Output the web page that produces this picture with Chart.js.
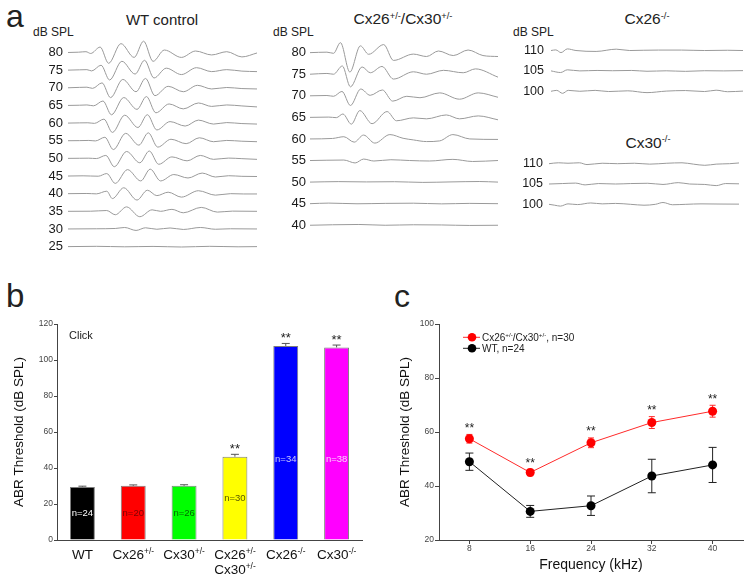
<!DOCTYPE html>
<html><head><meta charset="utf-8">
<script src="https://cdn.jsdelivr.net/npm/chart.js@4.4.0/dist/chart.umd.min.js"></script>
<style>
html,body{margin:0;padding:0;background:#fff;}
#fig{position:relative;width:751px;height:581px;overflow:hidden;font-family:"Liberation Sans",Arial,sans-serif;color:#222;}
canvas{position:absolute;}
.t{position:absolute;white-space:nowrap;line-height:1;}
.c{transform:translateX(-50%);}
.t sup{font-size:60%;vertical-align:0;position:relative;top:-0.6em;}
</style></head><body>
<div id="fig">
  <div class="t" style="left:6px;top:0px;font-size:32px">a</div>
  <div class="t" style="left:6px;top:279px;font-size:33px">b</div>
  <div class="t" style="left:394px;top:280px;font-size:32px">c</div>
  <div class="t c" style="left:162px;top:11.7px;font-size:15px">WT control</div>
  <div class="t c" style="left:403px;top:11.4px;font-size:15.5px">Cx26<sup>+/-</sup>/Cx30<sup>+/-</sup></div>
  <div class="t c" style="left:647px;top:11.4px;font-size:15.5px">Cx26<sup>-/-</sup></div>
  <div class="t c" style="left:648px;top:134.5px;font-size:15.5px">Cx30<sup>-/-</sup></div>
  <div class="t" style="left:33px;top:25.8px;font-size:12px">dB SPL</div>
  <div class="t" style="left:273px;top:25.8px;font-size:12px">dB SPL</div>
  <div class="t" style="left:513px;top:25.8px;font-size:12px">dB SPL</div>
  <canvas id="cWT" width="262" height="270" style="left:0;top:0"></canvas>
  <canvas id="cMid" width="245" height="250" style="left:260px;top:0"></canvas>
  <canvas id="cK26" width="246" height="118" style="left:505px;top:0"></canvas>
  <canvas id="cK30" width="246" height="112" style="left:505px;top:118px"></canvas>
  <canvas id="cB" width="375" height="291" style="left:0;top:290px"></canvas>
  <canvas id="cC" width="371" height="291" style="left:380px;top:290px"></canvas>
</div>
<script>
// ---------------- DATA ----------------
// Panel a: ABR waveforms, [time (ms), amplitude (arb. units)]
const wtLevels = [80,75,70,65,60,55,50,45,40,35,30,25];
const wtTraces = [
 [[0,0],[0.55,0.3],[0.95,0.8],[1.2,-1],[1.7,5.5],[2.15,-11],[2.8,9],[3.5,-5],[4.0,11.5],[4.5,-9],[5.1,2.5],[6.0,-5],[6.75,1.5],[7.6,-2.5],[8.4,0.8],[9.2,-4.5],[10,-0.5]],
 [[0,0],[0.6,0.3],[1.0,0.5],[1.25,-0.8],[1.75,5],[2.2,-10],[2.85,9],[3.55,-4],[4.05,10],[4.55,-8],[5.2,2],[6.0,-4.5],[6.8,2.5],[7.6,-1.5],[8.4,0.5],[9.2,-1],[10,-1.5]],
 [[0,0],[0.6,0.4],[1.0,0.6],[1.3,-0.6],[1.8,5],[2.25,-10],[2.9,8.5],[3.6,-4],[4.1,9.5],[4.6,-8],[5.3,1.5],[6.1,-4],[6.85,2.5],[7.6,-1.2],[8.4,0.3],[9.2,-0.8],[10,-1.2]],
 [[0,0],[0.6,0.2],[1.0,0.5],[1.35,-0.4],[1.85,4.5],[2.3,-9.5],[2.95,8],[3.65,-4],[4.15,9],[4.65,-7.5],[5.35,1.5],[6.1,-3.5],[6.9,2.5],[7.6,-1],[8.4,0.5],[9.2,-0.5],[10,-1.5]],
 [[0,0],[0.6,0.2],[1.05,0.3],[1.4,-0.3],[1.9,4],[2.35,-9.5],[3.0,8],[3.7,-4.5],[4.2,8.5],[4.7,-7],[5.4,1.5],[6.2,-3],[6.9,3],[7.7,-1],[8.4,0.5],[9.2,-0.5],[10,-1]],
 [[0,0],[0.6,0.1],[1.1,0.3],[1.45,-0.2],[1.95,3.5],[2.4,-9],[3.05,7.5],[3.75,-4.5],[4.25,8],[4.75,-6.5],[5.45,1.5],[6.25,-3],[6.95,3],[7.7,-1],[8.4,0.3],[9.2,-0.5],[10,-1]],
 [[0,0],[0.6,0.1],[1.1,0.2],[1.5,-0.2],[2.0,3],[2.45,-8.5],[3.1,7],[3.8,-4.5],[4.3,7.5],[4.8,-6],[5.5,1.5],[6.3,-2.5],[7.0,3],[7.7,-1],[8.5,0.3],[9.2,-0.3],[10,-1]],
 [[0,0],[0.8,0.2],[1.2,0],[1.6,-0.2],[2.05,2.5],[2.5,-7.5],[3.15,6.5],[3.85,-5],[4.35,7],[4.9,-5],[5.6,1.5],[6.35,-2],[7.1,3],[7.8,-1],[8.5,0.3],[9.2,-0.3],[10,-0.5]],
 [[0,0],[1.0,0.2],[1.5,-0.2],[2.05,2.5],[2.35,-5],[2.95,6],[3.65,-6.5],[4.2,3.5],[4.7,-2],[5.3,1.5],[6.0,-3.5],[6.9,3],[7.8,-1.5],[8.6,0],[9.3,-0.3],[10,-0.3]],
 [[0,0],[1.2,0.1],[2.05,0.8],[2.5,-3.5],[3.1,4.5],[3.8,-5.5],[4.45,1.5],[4.9,0],[5.5,2],[6.1,-1.5],[7.05,4],[7.9,-0.8],[8.7,0.2],[10,0]],
 [[0,0],[1.5,0.2],[2.5,0.5],[3.0,1.5],[3.6,-1.5],[4.1,1.2],[4.7,-0.3],[5.4,1],[6.1,-0.5],[7.0,1.5],[7.8,-0.3],[8.6,0.2],[10,0]],
 [[0,0],[1.5,0.3],[3,-0.2],[4.5,0.2],[6,-0.4],[7.5,0.3],[9,-0.2],[10,0]]
];
const hetLevels = [80,75,70,65,60,55,50,45,40];
const hetTraces = [
 [[0,0],[0.9,0.5],[1.25,-0.7],[1.62,10.3],[2.12,-20],[2.68,7],[3.12,-1.7],[3.92,8.3],[4.44,-8],[5.5,-1.5],[6.2,-4],[6.83,1.7],[7.62,-3],[8.41,2.7],[9.2,-3],[10,-4]],
 [[0,0],[0.9,0.8],[1.25,0],[1.72,8.5],[2.15,-13],[2.77,7.5],[3.21,1.5],[3.83,8],[4.44,-5],[5.5,2.5],[6.2,0],[7.1,4],[8.15,1.5],[8.8,5.5],[10,-3]],
 [[0,0],[0.9,0.3],[1.25,-0.5],[1.7,4.5],[2.15,-10],[2.7,7],[3.2,0.5],[3.85,6],[4.4,-5.5],[5.15,-0.5],[5.85,-2],[6.9,3],[7.95,-3.5],[8.95,3],[10,-1.5]],
 [[0,0],[1.0,0.3],[1.4,-0.3],[1.75,3.5],[2.2,-7],[2.65,7],[3.3,-6.5],[4.1,6],[4.6,-3.5],[5.5,-0.5],[6.2,-1.5],[7.25,2.5],[7.95,-1.5],[8.95,1.5],[10,-2.5]],
 [[0,0],[1.2,0.5],[1.8,2.3],[2.35,-3.3],[2.85,4],[3.45,-4.3],[4.25,4.5],[4.95,0.7],[5.5,-1],[6.2,-2.7],[6.9,-2],[7.6,4.5],[8.5,0],[10,-0.5]],
 [[0,0],[1.8,0.5],[2.4,-2.5],[2.85,1.5],[3.4,-0.5],[4.3,0.8],[5.3,0],[6.35,-0.5],[7.6,1.2],[8.65,-1],[10,0]],
 [[0,0],[1.5,0.5],[3,0.2],[4.5,0.4],[6,-0.3],[7.5,0.2],[9,0.6],[10,0]],
 [[0,0],[1,0.6],[2.5,-0.1],[4,0.3],[5.5,0.5],[7,-0.2],[8.5,0.3],[10,0]],
 [[0,0],[1.2,0.5],[2.6,0.8],[4,0],[5.5,0.5],[7,0.3],[8.5,-0.2],[10,0]]
];
const koLevels = [110,105,100];
const cx26KoTraces = [
 [[0,0],[0.25,0.7],[0.52,-2.3],[0.85,1.8],[1.3,0],[2.35,-1],[3.4,1.5],[4.1,0],[4.8,0.3],[5.6,0.5],[6.8,0.5],[8.0,0],[9.2,0.3],[10,0]],
 [[0,0],[0.5,-1.8],[0.85,1.2],[1.5,0],[2.4,0.5],[3.2,0.2],[4.2,0.5],[5,-0.4],[6,0.1],[7,-0.5],[8,0.2],[9,0],[10,0.3]],
 [[0,0],[0.3,1],[0.6,-2.3],[0.9,1],[1.5,0],[2.3,1],[3.0,-0.3],[4,0.5],[5,-1.5],[6,0.2],[7,0.8],[8,-0.3],[8.6,1.2],[9.2,-0.5],[10,0.2]]
];
const cx30KoTraces = [
 [[0,0],[0.5,1],[1.0,0.5],[1.6,1],[2.0,-1],[2.8,0.5],[3.6,0],[4.5,0.5],[5.3,-0.5],[6.2,0.5],[7.0,1],[7.6,-0.5],[8.2,-1.8],[8.8,-0.5],[9.5,0],[10,0.8]],
 [[0,0],[0.7,0.5],[1.4,1],[1.9,-1],[2.6,0.5],[3.5,0],[4.3,0.5],[5.2,0.8],[6.0,-0.5],[6.8,1.5],[7.4,0],[8.2,-0.5],[8.8,-1.8],[9.3,0.5],[10,0.2]],
 [[0,0],[0.3,-1],[0.6,-2],[1.0,0.5],[1.5,-0.3],[2.2,1.5],[2.8,0.5],[3.5,1],[4.3,0],[5.0,-1],[5.6,0],[6.0,2],[6.5,-0.5],[7.2,0],[8,0.5],[9,0.3],[10,0.2]]
];

// Panel b: click ABR thresholds
const barLabels = ['WT','Cx26^{+/-}','Cx30^{+/-}','Cx26^{+/-}\nCx30^{+/-}','Cx26^{-/-}','Cx30^{-/-}'];
const barValues = [29.5, 30.1, 30.1, 46.3, 107.8, 107.0];
const barErrors = [0.4, 0.5, 0.6, 1.3, 1.4, 1.3];
const barN = ['n=24','n=20','n=26','n=30','n=34','n=38'];
const barSig = ['','','','**','**','**'];
const bTicks = [0,20,40,60,80,100,120];

// Panel c: frequency-specific thresholds
const freqs = [8,16,24,32,40];
const hetValues = [57.5, 45.0, 56.0, 63.5, 67.7];
const hetErrors = [1.6, 1.2, 1.8, 2.2, 2.2];
const wtValues = [49.0, 30.6, 32.7, 43.7, 47.8];
const wtErrors = [3.2, 2.2, 3.6, 6.2, 6.5];
const cSig = ['**','**','**','**','**'];
const cTicks = [20,40,60,80,100];
const cSeriesLabels = ['Cx26^{+/-}/Cx30^{+/-}, n=30', 'WT, n=24'];

// ---------------- STYLE ----------------
const FONT = '"Liberation Sans", Arial, sans-serif';
const barColors = ['#000000','#ff0000','#00ff00','#ffff00','#0000ff','#ff00ff'];
const barNColors = ['#ffffff','#7a0000','#006a00','#5a5a00','#c8c8ff','#ffd0ff'];
const TRACE = '#9a9a9a';
const AXIS = '#444';

function drawRich(ctx, str, x, y, size, align, color){
  const parts = str.split(/\^\{([^}]*)\}/);
  const sup = size*0.62;
  let w = 0;
  parts.forEach((p,i)=>{ ctx.font = (i%2 ? sup : size)+'px '+FONT; w += ctx.measureText(p).width; });
  let cx = align==='center' ? x - w/2 : (align==='right' ? x - w : x);
  ctx.save();
  ctx.fillStyle = color; ctx.textAlign = 'left'; ctx.textBaseline = 'alphabetic';
  parts.forEach((p,i)=>{
    const s = i%2===1;
    ctx.font = (s ? sup : size)+'px '+FONT;
    ctx.fillText(p, cx, s ? y - size*0.4 : y);
    cx += ctx.measureText(p).width;
  });
  ctx.restore();
}

Chart.defaults.font.family = FONT;

function traceChart(id, levels, traces, gain, cfg){
  new Chart(document.getElementById(id), {
    type:'line',
    data:{datasets: traces.map((tr,i)=>({
      label: levels[i]+' dB',
      data: tr.map(p=>({x:p[0], y: levels[i] + p[1]*gain})),
      borderColor: TRACE, borderWidth: 1, pointRadius: 0,
      cubicInterpolationMode: 'monotone', fill: false, clip: false
    }))},
    options:{
      responsive:false, animation:false, events:[],
      layout:{padding:{top:cfg.padTop, bottom:cfg.padBottom, left:0, right:cfg.padRight}},
      plugins:{legend:{display:false}, tooltip:{enabled:false}},
      scales:{
        x:{type:'linear', min:0, max:10, display:false},
        y:{type:'linear', min:cfg.min, max:cfg.max,
           grid:{display:false, drawTicks:false}, border:{display:false},
           afterBuildTicks:s=>{ s.ticks = levels.map(v=>({value:v})); },
           afterFit:s=>{ s.width = cfg.axisW; },
           ticks:{autoSkip:false, padding:cfg.tickPad, color:'#1a1a1a', font:{family:FONT, size:cfg.fs}}}
      }
    }
  });
}

traceChart('cWT', wtLevels, wtTraces, 0.279, {min:22, max:83, padTop:41.9, padBottom:9.2, padRight:5, axisW:68, tickPad:5, fs:13});
traceChart('cMid', hetLevels, hetTraces, 0.225, {min:37, max:83, padTop:39.7, padBottom:6.2, padRight:7, axisW:50, tickPad:4, fs:13});
traceChart('cK26', koLevels, cx26KoTraces, 0.222, {min:97, max:113, padTop:38.3, padBottom:8.1, padRight:8, axisW:46, tickPad:7, fs:12.5});
traceChart('cK30', koLevels, cx30KoTraces, 0.222, {min:97, max:113, padTop:33.5, padBottom:6.5, padRight:12, axisW:44, tickPad:6, fs:12.5});

// ---------------- Panel b ----------------
const bPlugin = {
  id:'bExtras',
  afterDatasetsDraw(chart){
    const ctx = chart.ctx, ys = chart.scales.y, xs = chart.scales.x, meta = chart.getDatasetMeta(0);
    const ca = chart.chartArea;
    ctx.save();
    meta.data.forEach((el,i)=>{
      const v = barValues[i], e = barErrors[i];
      const yTop = ys.getPixelForValue(v+e), yV = ys.getPixelForValue(v);
      ctx.strokeStyle = '#555'; ctx.lineWidth = 1;
      ctx.beginPath(); ctx.moveTo(el.x, yV); ctx.lineTo(el.x, yTop);
      ctx.moveTo(el.x-4, yTop); ctx.lineTo(el.x+4, yTop); ctx.stroke();
      if (barSig[i]) {
        ctx.fillStyle = '#222'; ctx.font = '13px '+FONT; ctx.textAlign='center'; ctx.textBaseline='middle';
        ctx.fillText(barSig[i], el.x, yTop - 5);
      }
      ctx.fillStyle = barNColors[i]; ctx.font = '9.5px '+FONT; ctx.textAlign='center'; ctx.textBaseline='middle';
      ctx.fillText(barN[i], el.x, ys.getPixelForValue(Math.min(v/2, 45)));
      barLabels[i].split('\n').forEach((line,k)=>{
        drawRich(ctx, line, xs.getPixelForValue(i), ca.bottom + 19 + k*15, 13.5, 'center', '#111');
      });
    });
    ctx.fillStyle = '#222'; ctx.font = '11px '+FONT; ctx.textAlign='left'; ctx.textBaseline='alphabetic';
    ctx.fillText('Click', ca.left + 12, ca.top + 15);
    ctx.restore();
  }
};
new Chart(document.getElementById('cB'), {
  type:'bar',
  data:{labels: barLabels, datasets:[{label:'Click', data: barValues, backgroundColor: barColors,
        borderColor:'rgba(70,70,70,0.7)', borderWidth:1, barPercentage:0.49, categoryPercentage:1}]},
  options:{
    responsive:false, animation:false, events:[],
    layout:{padding:{top:34, bottom:0, left:11, right:13}},
    plugins:{legend:{display:false}, tooltip:{enabled:false}},
    scales:{
      x:{type:'category', grid:{display:false}, border:{display:true, color:AXIS, width:1},
         ticks:{display:false}, afterFit:s=>{ s.height = 41; }},
      y:{type:'linear', min:0, max:120,
         afterBuildTicks:s=>{ s.ticks = bTicks.map(v=>({value:v})); },
         afterFit:s=>{ s.width = 46; },
         grid:{display:true, drawOnChartArea:false, drawTicks:true, tickLength:3, color:AXIS},
         border:{display:true, color:AXIS, width:1},
         ticks:{padding:1, color:'#444', font:{family:FONT, size:8.5}},
         title:{display:true, text:'ABR Threshold (dB SPL)', color:'#111', font:{family:FONT, size:13.5}, padding:{top:0,bottom:0}}}
    }
  },
  plugins:[bPlugin]
});

// ---------------- Panel c ----------------
const cPlugin = {
  id:'cExtras',
  beforeDatasetsDraw(chart){
    const ctx = chart.ctx, ys = chart.scales.y, xs = chart.scales.x;
    ctx.save();
    [[hetValues, hetErrors, '#ff2a2a', 3], [wtValues, wtErrors, '#222', 4]].forEach(([vals, errs, col, cap])=>{
      ctx.strokeStyle = col; ctx.lineWidth = 1;
      vals.forEach((v,i)=>{
        const x = xs.getPixelForValue(freqs[i]);
        const y1 = ys.getPixelForValue(v+errs[i]), y2 = ys.getPixelForValue(v-errs[i]);
        ctx.beginPath(); ctx.moveTo(x,y1); ctx.lineTo(x,y2);
        ctx.moveTo(x-cap,y1); ctx.lineTo(x+cap,y1); ctx.moveTo(x-cap,y2); ctx.lineTo(x+cap,y2); ctx.stroke();
      });
    });
    ctx.restore();
  },
  afterDatasetsDraw(chart){
    const ctx = chart.ctx, ys = chart.scales.y, xs = chart.scales.x, ca = chart.chartArea;
    ctx.save();
    ctx.fillStyle = '#222'; ctx.font = '12px '+FONT; ctx.textAlign='center'; ctx.textBaseline='middle';
    hetValues.forEach((v,i)=>{
      ctx.fillText(cSig[i], xs.getPixelForValue(freqs[i]), ys.getPixelForValue(v+hetErrors[i]) - 6);
    });
    // legend
    chart.data.datasets.forEach((ds,k)=>{
      const y = ca.top + 13.3 + k*11;
      ctx.strokeStyle = ds.borderColor; ctx.lineWidth = 1;
      ctx.beginPath(); ctx.moveTo(ca.left + 24, y); ctx.lineTo(ca.left + 41, y); ctx.stroke();
      ctx.fillStyle = ds.pointBackgroundColor;
      ctx.beginPath(); ctx.arc(ca.left + 33, y, 4.3, 0, Math.PI*2); ctx.fill();
      drawRich(ctx, ds.label, ca.left + 43, y + 3.5, 10, 'left', '#222');
    });
    ctx.restore();
  }
};
new Chart(document.getElementById('cC'), {
  type:'line',
  data:{datasets:[
    {label: cSeriesLabels[0], data: freqs.map((f,i)=>({x:f, y:hetValues[i]})),
     borderColor:'#ff2a2a', borderWidth:1, pointRadius:4.5, pointBackgroundColor:'#ff0000', pointBorderColor:'#ff0000', pointBorderWidth:0, tension:0},
    {label: cSeriesLabels[1], data: freqs.map((f,i)=>({x:f, y:wtValues[i]})),
     borderColor:'#222', borderWidth:1, pointRadius:4.5, pointBackgroundColor:'#000000', pointBorderColor:'#000000', pointBorderWidth:0, tension:0}
  ]},
  options:{
    responsive:false, animation:false, events:[],
    layout:{padding:{top:34, bottom:0, left:17, right:8}},
    plugins:{legend:{display:false}, tooltip:{enabled:false}},
    scales:{
      x:{type:'linear', min:4, max:44,
         afterBuildTicks:s=>{ s.ticks = freqs.map(v=>({value:v})); },
         afterFit:s=>{ s.height = 41; },
         grid:{display:true, drawOnChartArea:false, drawTicks:true, tickLength:4, color:AXIS},
         border:{display:true, color:AXIS, width:1},
         ticks:{padding:0, color:'#444', font:{family:FONT, size:8.5}},
         title:{display:true, text:'Frequency (kHz)', color:'#111', font:{family:FONT, size:14}, padding:{top:0,bottom:7.6}}},
      y:{type:'linear', min:20, max:100,
         afterBuildTicks:s=>{ s.ticks = cTicks.map(v=>({value:v})); },
         afterFit:s=>{ s.width = 42; },
         grid:{display:true, drawOnChartArea:false, drawTicks:true, tickLength:4, color:AXIS},
         border:{display:true, color:AXIS, width:1},
         ticks:{padding:1, color:'#444', font:{family:FONT, size:8.5}},
         title:{display:true, text:'ABR Threshold (dB SPL)', color:'#111', font:{family:FONT, size:13.5}, padding:{top:0,bottom:0}}}
    }
  },
  plugins:[cPlugin]
});
</script>
</body></html>
